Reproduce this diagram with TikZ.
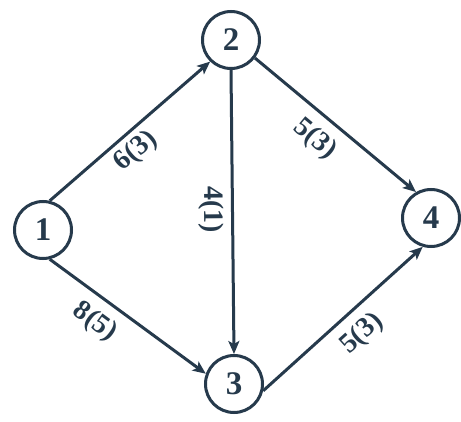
\documentclass[tikz,border=0pt]{standalone}
\usepackage{fontspec}
\setmainfont{Liberation Serif}
\usetikzlibrary{arrows.meta}
\definecolor{ink}{HTML}{263A4C}
\begin{document}
\begin{tikzpicture}[x=1pt,y=-1pt,
  vtx/.style={circle,draw=ink,line width=3pt,minimum size=57pt,inner sep=0pt,fill=white,text=ink,font=\fontsize{33}{33}\selectfont\bfseries},
  arc/.style={draw=ink,line width=3pt,-{Stealth[length=13pt,width=11pt,inset=3pt]}},
  lab/.style={sloped,text=ink,inner sep=0pt,font=\fontsize{28}{28}\selectfont\bfseries}]
\useasboundingbox[fill=white] (0,0) rectangle (461,422);
\node[vtx] (n1) at (43,230) {1};
\node[vtx] (n2) at (231,40) {2};
\node[vtx] (n3) at (234,384) {3};
\node[vtx] (n4) at (431,218) {4};
\draw[arc] (n1.77) -- node[lab,pos=0.46,below=5pt]{6(3)} (n2.226);
\draw[arc] (n1.-77) -- node[lab,pos=0.38,below=10pt]{8(5)} (n3.160);
\draw[arc] (n2.south) -- node[lab,pos=0.49,below=7pt]{4(1)} (n3.north);
\draw[arc] (n2.-37) -- node[lab,pos=0.47,below=10pt]{5(3)} (n4.120);
\draw[arc] (n3.-13) -- node[lab,pos=0.52,below=10pt]{5(3)} (n4.254);
\end{tikzpicture}
\end{document}
